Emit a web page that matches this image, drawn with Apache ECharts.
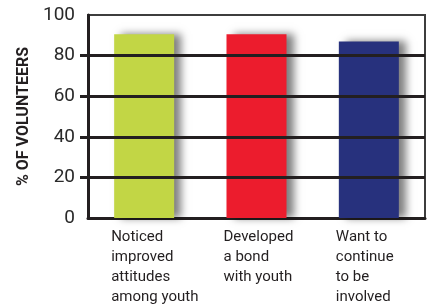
<!DOCTYPE html>
<html><head><meta charset="utf-8">
<script src="https://cdn.jsdelivr.net/npm/echarts@6/dist/echarts.min.js"></script>
<style>html,body{margin:0;padding:0;background:#fff}#c{width:433px;height:307px}</style>
</head><body><div id="c"></div>
<script>
const categories = ['Noticed\nimproved\nattitudes\namong youth', 'Developed\na bond\nwith youth', 'Want to\ncontinue\nto be\ninvolved'];
const values = [90.5, 90.5, 87];
const barColors = ['#c2d645', '#ec1c2d', '#27317d'];
const yTicks = [0, 20, 40, 60, 80, 100];
const gridTicks = [20, 40, 60, 80];
const yTitle = '% OF VOLUNTEERS';

const chart = echarts.init(document.getElementById('c'), null, {renderer: 'canvas'});
const ink = '#231f20';
chart.setOption({
  animation: false,
  grid: {left: 88, right: 8, top: 15, bottom: 85, show: true, borderColor: '#3d3d3d', borderWidth: 2},
  xAxis: {
    type: 'category', data: categories,
    axisLine: {show: true, lineStyle: {color: ink, width: 3}},
    axisTick: {show: false},
    axisLabel: {
      margin: 9, interval: 0, color: ink, fontFamily: 'Roboto', fontSize: 15, lineHeight: 20,
      formatter: v => v.split('\n').map(s => '{t|' + s + '}').join('\n'),
      rich: {t: {width: 66, align: 'left', fontFamily: 'Roboto', fontSize: 15, lineHeight: 20, color: ink}}
    }
  },
  yAxis: {
    type: 'value', min: 0, max: 100, interval: 20,
    name: yTitle, nameLocation: 'middle', nameGap: 56, nameRotate: 90,
    nameTextStyle: {fontFamily: 'Roboto', fontWeight: 'bold', fontSize: 16, color: ink},
    axisLine: {show: true, lineStyle: {color: ink, width: 3}},
    axisTick: {show: true, length: 8, lineStyle: {color: ink, width: 3}, customValues: gridTicks},
    axisLabel: {margin: 13, color: '#2a2a2a', fontFamily: 'Roboto', fontSize: 19, customValues: yTicks},
    splitLine: {show: false}
  },
  series: [{
    type: 'bar', barWidth: 60,
    data: values.map((v, i) => ({value: v, itemStyle: {color: barColors[i]}})),
    itemStyle: {shadowColor: 'rgba(0,0,0,0.5)', shadowBlur: 8, shadowOffsetX: 7},
    z: 3
  }, {
    type: 'line', data: [], z: 1,
    markLine: {
      silent: true, symbol: 'none', label: {show: false},
      lineStyle: {color: ink, width: 3, type: 'solid'},
      data: gridTicks.map(v => ({yAxis: v}))
    }
  }]
});
</script></body></html>
